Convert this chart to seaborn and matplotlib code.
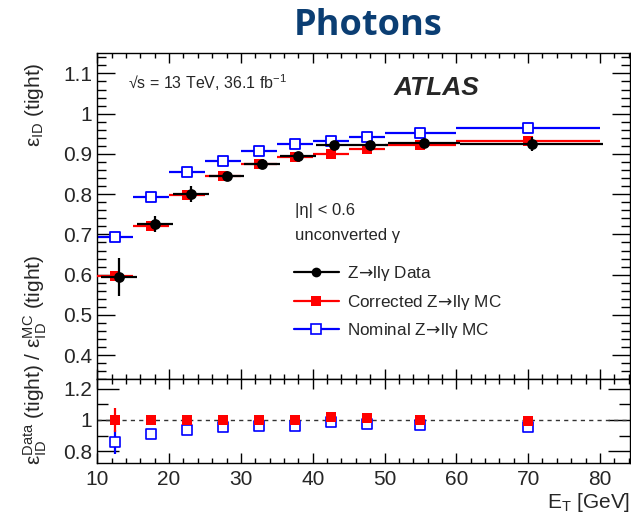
import matplotlib
matplotlib.use("Agg")
import matplotlib.pyplot as plt
from matplotlib.ticker import MultipleLocator, FuncFormatter
from matplotlib.lines import Line2D
import seaborn as sns
import pandas as pd
import numpy as np

# ---------------- data ----------------
bin_lo = [10, 15, 20, 25, 30, 35, 40, 45, 50, 60]
bin_hi = [15, 20, 25, 30, 35, 40, 45, 50, 60, 80]
eff_data = [0.594, 0.725, 0.800, 0.845, 0.875, 0.894, 0.922, 0.921, 0.927, 0.925]
err_data = [0.047, 0.020, 0.020, 0.008, 0.006, 0.006, 0.009, 0.008, 0.010, 0.018]
eff_corr = [0.596, 0.721, 0.798, 0.844, 0.875, 0.892, 0.900, 0.911, 0.921, 0.931]
eff_nom = [0.693, 0.794, 0.855, 0.883, 0.907, 0.924, 0.931, 0.942, 0.953, 0.965]
ratio_corr = [1.000, 1.002, 0.998, 1.000, 0.997, 1.000, 1.021, 1.010, 1.002, 0.993]
ratio_corr_err = [0.076, 0.010, 0.008, 0.004, 0.004, 0.004, 0.005, 0.005, 0.006, 0.008]
ratio_nom = [0.859, 0.909, 0.937, 0.958, 0.960, 0.962, 0.985, 0.975, 0.968, 0.954]
ratio_nom_err = [0.074, 0.010, 0.008, 0.004, 0.004, 0.004, 0.005, 0.005, 0.006, 0.008]
data_shift = 0.5  # data points drawn slightly to the right in each bin

title = "Photons"
legend_labels = [r"Z$\!\mathrm{\rightarrow}\!$ll$\gamma$ Data",
                 r"Corrected Z$\!\mathrm{\rightarrow}\!$ll$\gamma$ MC",
                 r"Nominal Z$\!\mathrm{\rightarrow}\!$ll$\gamma$ MC"]

# ---------------- style ----------------
sns.set_style("ticks")
plt.rcParams["font.family"] = ["Liberation Sans", "DejaVu Sans"]
plt.rcParams["mathtext.default"] = "regular"
plt.rcParams["mathtext.fontset"] = "dejavusans"
plt.rcParams["axes.linewidth"] = 1.0

lo = np.array(bin_lo, float)
hi = np.array(bin_hi, float)
cen = (lo + hi) / 2
half = (hi - lo) / 2

df = pd.DataFrame({
    "x": cen, "xd": cen + data_shift,
    "data": eff_data, "corr": eff_corr, "nom": eff_nom,
    "rc": ratio_corr, "rn": ratio_nom,
})

W_PX, H_PX = 631, 520
fig = plt.figure(figsize=(W_PX / 100, H_PX / 100), dpi=100)

left_px, right_px = 97.3, 630
top1, bot1 = 53.3, 379.3
bot2 = 463
L = left_px / W_PX
W = (right_px - left_px) / W_PX
ax1 = fig.add_axes([L, 1 - bot1 / H_PX, W, (bot1 - top1) / H_PX])
ax2 = fig.add_axes([L, 1 - bot2 / H_PX, W, (bot2 - bot1) / H_PX])

BLUE = "#0000ff"
RED = "#ff0000"
BLACK = "#000000"
lw = 1.6

# ---- top panel ----
ax1.errorbar(cen, eff_nom, xerr=half, fmt="none", ecolor=BLUE, elinewidth=lw, capsize=0, zorder=2)
sns.scatterplot(data=df, x="x", y="nom", ax=ax1, marker="s", s=55, facecolor="white",
                edgecolor=BLUE, linewidth=1.3, zorder=3)
ax1.errorbar(cen, eff_corr, xerr=half, fmt="none", ecolor=RED, elinewidth=lw, capsize=0, zorder=4)
sns.scatterplot(data=df, x="x", y="corr", ax=ax1, marker="s", s=48, color=RED,
                edgecolor=RED, linewidth=0, zorder=5)
ax1.errorbar(cen + data_shift, eff_data, xerr=half, yerr=err_data, fmt="none", ecolor=BLACK,
             elinewidth=lw, capsize=0, zorder=6)
sns.scatterplot(data=df, x="xd", y="data", ax=ax1, marker="o", s=60, color=BLACK,
                edgecolor=BLACK, linewidth=0, zorder=7)

# ---- ratio panel ----
ax2.axhline(1.0, color="#333333", lw=1.0, ls=(0, (3, 3)), zorder=1)
ax2.errorbar(cen, ratio_nom, yerr=ratio_nom_err, fmt="none", ecolor=BLUE, elinewidth=lw, capsize=0, zorder=2)
sns.scatterplot(data=df, x="x", y="rn", ax=ax2, marker="s", s=50, facecolor="white",
                edgecolor=BLUE, linewidth=1.2, zorder=3)
ax2.errorbar(cen, ratio_corr, yerr=ratio_corr_err, fmt="none", ecolor=RED, elinewidth=lw, capsize=0, zorder=4)
sns.scatterplot(data=df, x="x", y="rc", ax=ax2, marker="s", s=48, color=RED,
                edgecolor=RED, linewidth=0, zorder=5)

xmax = 10 + (right_px - left_px) / 7.18
for ax in (ax1, ax2):
    ax.set_xlim(10, xmax)
    ax.set_xlabel("")
    ax.set_ylabel("")
    ax.xaxis.set_major_locator(MultipleLocator(10))
    ax.xaxis.set_minor_locator(MultipleLocator(2))
    ax.tick_params(which="both", direction="in", top=True, right=True, width=1.0,
                   labelsize=15, color="black")
    for s in ax.spines.values():
        s.set_visible(True)
        s.set_color("black")

fmt = FuncFormatter(lambda v, p: f"{v:g}")
ax1.set_ylim(0.34, 1.15)
ax1.yaxis.set_major_locator(MultipleLocator(0.1))
ax1.yaxis.set_minor_locator(MultipleLocator(0.02))
ax1.yaxis.set_major_formatter(fmt)
ax1.tick_params(axis="x", which="major", length=7, labelbottom=False)
ax1.tick_params(axis="x", which="minor", length=3.5)
ax1.tick_params(axis="y", which="major", length=13, pad=3.5)
ax1.tick_params(axis="y", which="minor", length=6.5)

ax2.set_ylim(0.725, 1.26)
ax2.yaxis.set_major_locator(MultipleLocator(0.2))
ax2.yaxis.set_minor_locator(MultipleLocator(0.1))
ax2.yaxis.set_major_formatter(fmt)
ax2.tick_params(axis="x", which="major", length=7, pad=5)
ax2.tick_params(axis="x", which="minor", length=3.5)
ax2.tick_params(axis="y", which="major", length=16, pad=3.5)
ax2.tick_params(axis="y", which="minor", length=8)

# ---- texts ----
fig.text(368 / W_PX, 1 - 26 / H_PX, title, ha="center", va="center", fontsize=26,
         fontweight="bold", color="#0b3e73", family=["Open Sans", "DejaVu Sans"])
fig.text(35 / W_PX, 1 - 105 / H_PX, r"$\epsilon_{ID}$ (tight)", rotation=90,
         ha="center", va="center", fontsize=15)
fig.text(35 / W_PX, 1 - 360 / H_PX, r"$\epsilon_{ID}^{Data}$ (tight) / $\epsilon_{ID}^{MC}$ (tight)",
         rotation=90, ha="center", va="center", fontsize=15)
fig.text(630 / W_PX, 1 - 503 / H_PX, r"$E_{T}$ [GeV]", ha="right", va="center", fontsize=15)

fig.text(128 / W_PX, 1 - 83 / H_PX, "\u221as = 13 TeV, 36.1 fb$^{-1}$", ha="left", va="center",
         fontsize=11.5, family=["Liberation Sans", "DejaVu Sans"])
fig.text(394 / W_PX, 1 - 88 / H_PX, "ATLAS", ha="left", va="center", fontsize=19,
         fontweight="bold", fontstyle="italic")
fig.text(295 / W_PX, 1 - 210 / H_PX, "|\u03b7| < 0.6", ha="left", va="center", fontsize=12)
fig.text(295 / W_PX, 1 - 236 / H_PX, "unconverted \u03b3", ha="left", va="center", fontsize=12)

handles = [
    Line2D([0], [0], color=BLACK, lw=lw, marker="o", markersize=7, markeredgewidth=0),
    Line2D([0], [0], color=RED, lw=lw, marker="s", markersize=6.5, markeredgewidth=0),
    Line2D([0], [0], color=BLUE, lw=lw, marker="s", markersize=6.5, markerfacecolor="white",
           markeredgecolor=BLUE, markeredgewidth=1.2),
]
fig.legend(handles, legend_labels, loc="upper left",
           bbox_to_anchor=(289 / W_PX, 1 - 259 / H_PX), frameon=False, fontsize=12.3,
           handlelength=2.6, handletextpad=0.5, labelspacing=0.55, borderaxespad=0,
           borderpad=0.3)

fig.savefig("out.png", dpi=100)
